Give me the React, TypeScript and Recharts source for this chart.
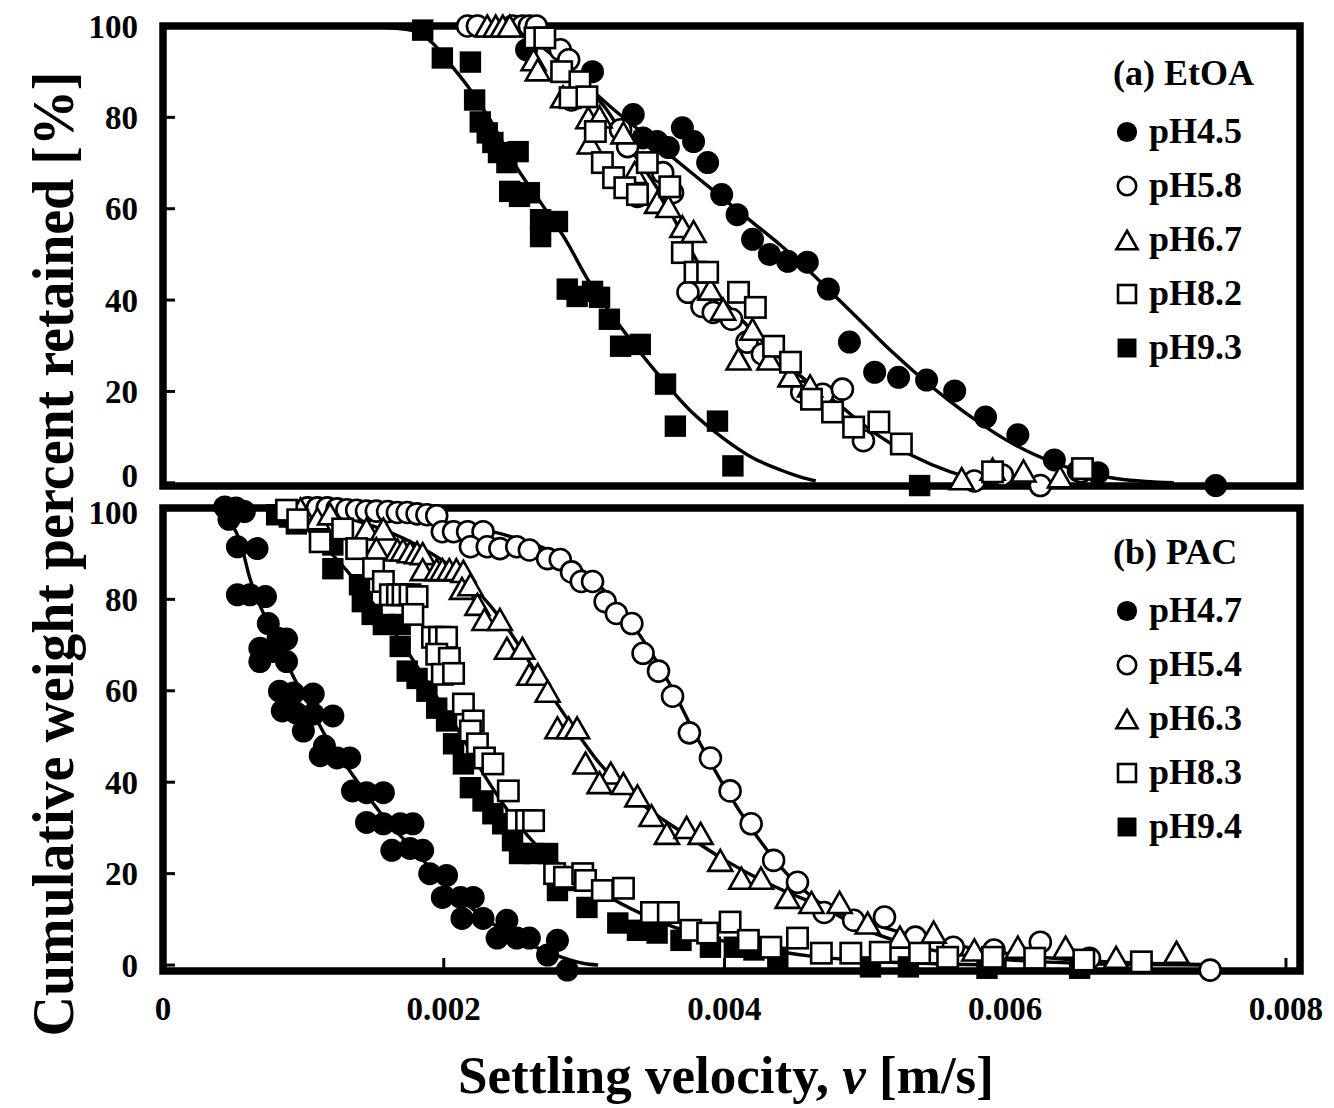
import React from "react";
import { ComposedChart, Scatter, Line, XAxis, YAxis, ReferenceArea, Legend } from "recharts";

const FONT = '"Liberation Serif", "Times New Roman", Times, serif';

const xTicks = [0, 0.002, 0.004, 0.006, 0.008];
const yTicks = [0, 20, 40, 60, 80, 100];

// (a) EtOA, measured points: [settling velocity m/s, cumulative % retained]
const etoa45 = [
  [0.00259, 94.8], [0.00306, 90], [0.00335, 80.6], [0.00342, 75.5], [0.00352, 74.7], [0.0036, 73.4],
  [0.0037, 77.7], [0.00378, 74.7], [0.00388, 70.1], [0.00398, 63.1], [0.00409, 58.7], [0.0042, 53.3],
  [0.00432, 50], [0.00445, 48.5], [0.00459, 48.3], [0.00474, 42.4], [0.00489, 30.8], [0.00507, 24.2],
  [0.00524, 23.1], [0.00544, 22.5], [0.00564, 20.1], [0.00586, 14.4], [0.00609, 10.5], [0.00635, 5],
  [0.00652, 2.6], [0.00666, 2.2], [0.0075, -0.6],
];
const etoa58 = [
  [0.00217, 100], [0.00224, 100], [0.00249, 100], [0.00256, 100], [0.00261, 100], [0.00266, 100],
  [0.00283, 94.8], [0.00289, 92.6], [0.00291, 83.8], [0.00326, 77.3], [0.00331, 73.6], [0.00356, 67.9],
  [0.00338, 62.7], [0.00363, 63.5], [0.00374, 41.7], [0.00384, 38.6], [0.00392, 37.3], [0.00405, 35.8],
  [0.00416, 30.8], [0.00427, 28.2], [0.00455, 19.9], [0.0047, 19.4], [0.00484, 20.5], [0.00499, 9.2],
  [0.00578, 0.4], [0.00598, 1.7], [0.00625, -0.6], [0.00654, 2.4],
];
const etoa67 = [
  [0.00231, 100], [0.00237, 100], [0.00242, 100], [0.00247, 100], [0.00264, 92.6], [0.00267, 90.4],
  [0.00285, 84.5], [0.00303, 79.9], [0.00311, 80.1], [0.00304, 74.4], [0.00328, 76.6], [0.00336, 67.9],
  [0.00352, 61.4], [0.0036, 60.5], [0.0037, 56.1], [0.00378, 55], [0.0039, 42.4], [0.00399, 38],
  [0.0041, 27.1], [0.0042, 33.6], [0.00432, 27.1], [0.00447, 23.4], [0.00461, 21.2], [0.00569, 0.9],
  [0.00591, 3], [0.00613, 2.6], [0.00639, 1.3],
];
const etoa82 = [
  [0.00265, 97.4], [0.00272, 97.4], [0.00284, 90], [0.00297, 87.8], [0.0029, 84.3], [0.00302, 84.5],
  [0.00308, 76.9], [0.00313, 70.1], [0.00321, 66.8], [0.00329, 64.6], [0.00338, 63.1], [0.00345, 70.1],
  [0.00361, 64.8], [0.0037, 50.4], [0.00379, 46.1], [0.00388, 46.1], [0.0041, 41.7], [0.00422, 38.4],
  [0.00435, 29.9], [0.00447, 26.4], [0.00462, 18.3], [0.00477, 15.5], [0.00492, 12.2], [0.0051, 13.3],
  [0.00526, 8.5], [0.00591, 2.4], [0.00655, 3.1],
];
const etoa93 = [
  [0.00185, 99.1], [0.00199, 93], [0.00219, 92.1], [0.00222, 83.8], [0.00226, 79], [0.00231, 76.6],
  [0.00235, 74.5], [0.00239, 72.3], [0.00245, 70.1], [0.00253, 72.5], [0.00247, 63.8], [0.00254, 62.7],
  [0.00261, 63.5], [0.00269, 57.6], [0.00281, 57.2], [0.00269, 53.9], [0.00288, 42.4], [0.00295, 40.8],
  [0.00306, 41.9], [0.00311, 40.6], [0.00318, 35.8], [0.00326, 29.9], [0.0034, 30.3], [0.00358, 21.6],
  [0.00365, 12.4], [0.00395, 13.5], [0.00406, 3.7], [0.00539, -0.6],
];

// (a) EtOA, fitted curves
const etoaFit93 = [
  [0, 100], [0.0014, 100], [0.00155, 99.8], [0.00178, 99], [0.00192, 96.3], [0.00205, 91.5], [0.00219, 86],
  [0.00233, 79.5], [0.00249, 70.5], [0.00269, 61.4], [0.00288, 52.6], [0.00302, 44.8], [0.00316, 38.3],
  [0.00331, 32.1], [0.00352, 24], [0.00375, 16], [0.00399, 9.8], [0.0042, 5.5], [0.0044, 2.8], [0.00455, 1.2],
  [0.00465, 0.4],
];
const etoaFitMid = [
  [0.002, 100], [0.0024, 99.6], [0.0026, 98.5], [0.00274, 96.3], [0.00292, 89.7], [0.00316, 81.7],
  [0.00335, 72.3], [0.00354, 63.5], [0.00368, 55.5], [0.00383, 47.2], [0.00395, 41.5], [0.00416, 34.5],
  [0.0044, 27.1], [0.00454, 23.4], [0.00479, 17.7], [0.00506, 11.1], [0.00534, 5.9], [0.00561, 2.4],
  [0.00583, 0.6], [0.006, 0.1],
];
const etoaFit45 = [
  [0.002, 100], [0.0024, 99.4], [0.0026, 97.5], [0.0028, 93], [0.003, 87.5], [0.0032, 82], [0.0034, 77],
  [0.0036, 72], [0.0038, 67], [0.004, 62], [0.0042, 57], [0.0044, 52], [0.0046, 46.5], [0.0048, 40.5],
  [0.005, 34.5], [0.0052, 28.5], [0.0054, 23], [0.0056, 18], [0.0058, 13.5], [0.006, 9.5], [0.0062, 6.3],
  [0.0064, 3.8], [0.0066, 2], [0.0068, 0.9], [0.007, 0.3], [0.0072, 0],
];

// (b) PAC, measured points
const pac47 = [
  [0.00044, 100.2], [0.00052, 100], [0.00058, 99.2], [0.00047, 97.5], [0.00053, 91.5], [0.00067, 91.1],
  [0.00053, 81], [0.00062, 81], [0.00073, 80.6], [0.00075, 74.7], [0.00082, 71.5], [0.00088, 71.3],
  [0.00069, 69.3], [0.00078, 68.6], [0.00069, 66.4], [0.00088, 66.4], [0.00083, 59.9], [0.00093, 59.5],
  [0.00107, 59.3], [0.00085, 55.6], [0.00095, 55.1], [0.00107, 54.9], [0.00121, 54.5], [0.001, 51.2],
  [0.00115, 47.9], [0.00112, 45.8], [0.00124, 45.3], [0.00133, 45.3], [0.00135, 38.1], [0.00145, 37.7],
  [0.00157, 37.7], [0.00145, 31.2], [0.00157, 30.9], [0.00169, 30.9], [0.00178, 30.9], [0.00163, 25.1],
  [0.00176, 25.5], [0.00185, 25.1], [0.0019, 20], [0.00202, 19.6], [0.00199, 14.8], [0.00212, 14.8],
  [0.00221, 14.8], [0.00213, 10.2], [0.00228, 10.2], [0.00245, 9.8], [0.00238, 5.9], [0.00252, 5.9],
  [0.00261, 5.9], [0.00281, 5.4], [0.00274, 2.2], [0.00288, -1.1],
];
const pac54 = [
  [0.00103, 100], [0.0011, 100], [0.00117, 100], [0.00124, 99.8], [0.00131, 99.6], [0.00138, 99.5],
  [0.00145, 99.3], [0.00152, 99.3], [0.0016, 99.2], [0.00167, 99], [0.00174, 99], [0.00181, 98.7],
  [0.00188, 98.5], [0.00195, 98.3], [0.00199, 94.8], [0.00207, 94.8], [0.00217, 94.8], [0.00228, 94.8],
  [0.00219, 91.5], [0.00231, 91.5], [0.0024, 91.1], [0.00252, 91.5], [0.00261, 90.8], [0.00274, 88.9],
  [0.00283, 88.7], [0.00291, 86], [0.00298, 83.9], [0.00306, 83.9], [0.00315, 79.5], [0.00323, 76.9],
  [0.00334, 74.7], [0.00342, 68.2], [0.00353, 64.3], [0.00363, 58.8], [0.00375, 50.8], [0.0039, 45.3],
  [0.00404, 38.1], [0.00419, 30.9], [0.00435, 22.9], [0.00452, 18.1], [0.00471, 11.5], [0.00492, 9.8],
  [0.00514, 10.5], [0.00536, 6.1], [0.00563, 3.9], [0.00592, 3.3], [0.00625, 5], [0.0066, 1.5],
  [0.00746, -1.1],
];
const pac63 = [
  [0.00098, 99.8], [0.0011, 97.6], [0.00119, 98.7], [0.00145, 95.4], [0.00157, 95.4], [0.00152, 91.1],
  [0.00167, 90.8], [0.00171, 90.8], [0.00176, 90.4], [0.00181, 90.2], [0.00185, 90], [0.00185, 86.5],
  [0.00195, 86.5], [0.00199, 86.5], [0.00204, 86.5], [0.00209, 86.5], [0.00214, 86.1], [0.00213, 82.4],
  [0.00219, 83.2], [0.00224, 78.9], [0.00229, 75.6], [0.0024, 75.6], [0.00245, 69.3], [0.00256, 69.3],
  [0.00261, 63.6], [0.00267, 63.6], [0.00274, 59.9], [0.00281, 51.9], [0.00289, 51.9], [0.00295, 51.9],
  [0.00301, 44.2], [0.00319, 42], [0.00311, 39.9], [0.00328, 39.7], [0.00338, 37], [0.00348, 32.7],
  [0.00359, 28.8], [0.00373, 30.1], [0.00383, 28.8], [0.00397, 22.9], [0.00412, 19], [0.00426, 19],
  [0.00445, 14.8], [0.00462, 13.7], [0.00482, 13.7], [0.00502, 9.2], [0.00525, 6.1], [0.00549, 7.2],
  [0.00578, 3.3], [0.00609, 3.9], [0.00643, 3.9], [0.00679, 1.7], [0.00722, 2.8],
];
const pac83 = [
  [0.00088, 99.5], [0.00096, 97.4], [0.00112, 92.6], [0.00128, 95.4], [0.00138, 91.1], [0.0015, 86.7],
  [0.00157, 83.9], [0.00162, 81], [0.00167, 81], [0.00171, 81], [0.00176, 81], [0.00181, 80.6],
  [0.00178, 76.7], [0.00192, 71.7], [0.00197, 71.7], [0.00202, 71.7], [0.00195, 68], [0.00204, 67.1],
  [0.00199, 63.6], [0.00207, 63.8], [0.00214, 57.1], [0.00221, 53.4], [0.00219, 51.2], [0.00224, 48.4],
  [0.00229, 45.3], [0.00235, 44], [0.00246, 38.1], [0.00252, 31.6], [0.00259, 31.6], [0.00264, 31.6],
  [0.00279, 20], [0.00286, 19.2], [0.00299, 20], [0.00301, 18.5], [0.00313, 16.3], [0.00328, 16.8],
  [0.00348, 11.5], [0.0036, 11.5], [0.00376, 7.6], [0.00388, 7], [0.00404, 9.4], [0.00417, 5.4],
  [0.00433, 3.9], [0.00452, 5.9], [0.00469, 2.6], [0.0049, 2.6], [0.00511, 2.8], [0.00539, 2.6],
  [0.00559, 1.7], [0.00591, 1.7], [0.00621, 1.5], [0.00656, 1.1], [0.00697, 0.7],
];
const pac94 = [
  [0.00081, 98.5], [0.0009, 98], [0.00095, 96.5], [0.00121, 91.9], [0.00121, 86.7], [0.0014, 83.2],
  [0.00142, 79.5], [0.00149, 76.7], [0.00157, 74.5], [0.00169, 74.5], [0.00169, 69.7], [0.00174, 64.3],
  [0.00181, 62.7], [0.00188, 59.9], [0.00195, 56.2], [0.00202, 53.4], [0.00207, 48.4], [0.00214, 44],
  [0.00219, 38.8], [0.00228, 35.9], [0.00235, 33.1], [0.00242, 30.9], [0.00249, 27.2], [0.00254, 24.4],
  [0.00264, 24.4], [0.00274, 24.4], [0.00281, 16.3], [0.0029, 18.5], [0.00302, 12.6], [0.00324, 9.2],
  [0.00338, 7.6], [0.00352, 7], [0.00369, 5.4], [0.0039, 3.9], [0.00407, 3.9], [0.00421, 3.3],
  [0.00438, 1.7], [0.00504, -0.4], [0.00531, -0.4], [0.00587, -0.7], [0.00653, -0.7],
];

// (b) PAC, fitted curves
const pacFit47 = [
  [0, 100], [0.0004, 100], [0.00048, 97], [0.00055, 92.6], [0.00062, 84.5], [0.00071, 77.3], [0.00081, 71.5],
  [0.00093, 63], [0.00105, 56.5], [0.00115, 50.5], [0.00133, 42.5], [0.00157, 32.5], [0.00181, 24.4],
  [0.00204, 16.8], [0.00228, 10.5], [0.00252, 6], [0.00276, 2.6], [0.00299, 0.4], [0.0031, 0],
];
const pacFit54 = [
  [0, 100], [0.001, 100], [0.0015, 99.3], [0.002, 97], [0.0025, 93.5], [0.0028, 90], [0.003, 86], [0.0032, 80],
  [0.0034, 72], [0.0036, 62], [0.0038, 50], [0.004, 39], [0.0042, 29.5], [0.0044, 21.5], [0.0046, 15.5],
  [0.0048, 11], [0.005, 7.8], [0.0053, 4.6], [0.0056, 2.6], [0.006, 1.2], [0.0065, 0.4], [0.007, 0.1], [0.0075, 0],
];
const pacFit63 = [
  [0, 100], [0.001, 99.5], [0.0014, 97], [0.0018, 92], [0.0021, 86], [0.0024, 76], [0.0027, 62], [0.0029, 53],
  [0.0031, 44.5], [0.0034, 35.5], [0.0037, 29], [0.004, 23], [0.0043, 18], [0.0046, 14], [0.005, 9.5],
  [0.0055, 5.3], [0.006, 2.6], [0.0065, 1.1], [0.007, 0.4], [0.0075, 0.1],
];
const pacFitSq = [
  [0, 100], [0.0006, 100], [0.0009, 98], [0.0012, 90], [0.0015, 79], [0.0017, 70.5], [0.0019, 61],
  [0.0021, 51.5], [0.0023, 41], [0.0025, 32], [0.0027, 25], [0.0029, 20.5], [0.0032, 14.5], [0.0035, 10],
  [0.0038, 6.7], [0.0042, 4], [0.0046, 2], [0.005, 0.9], [0.0055, 0.3], [0.006, 0],
];

const toPts = (a: number[][]) => a.map(([v, y]) => ({ v, y }));

type Kind = "dot" | "ring" | "tri" | "box" | "block";

function Marker({ cx, cy, kind, small = false }: { cx: number; cy: number; kind: Kind; small?: boolean }) {
  const k = small ? 0.88 : 1;
  if (kind === "dot") return <circle cx={cx} cy={cy} r={11.5 * k} fill="#000" />;
  if (kind === "ring")
    return <circle cx={cx} cy={cy} r={10.5 * k} fill="#fff" stroke="#000" strokeWidth={2.6} />;
  if (kind === "tri") {
    const w = 12 * k;
    const h = 10.5 * k;
    return (
      <polygon
        points={`${cx},${cy - h} ${cx + w},${cy + h} ${cx - w},${cy + h}`}
        fill="#fff"
        stroke="#000"
        strokeWidth={2.6}
        strokeLinejoin="miter"
      />
    );
  }
  const s = 10.2 * k;
  if (kind === "box")
    return <rect x={cx - s} y={cy - s} width={2 * s} height={2 * s} fill="#fff" stroke="#000" strokeWidth={2.6} />;
  return <rect x={cx - s - 0.5} y={cy - s - 0.5} width={2 * s + 1} height={2 * s + 1} fill="#000" />;
}

type Series = { label: string; kind: Kind; data: number[][] };

const etoaSeries: Series[] = [
  { label: "pH4.5", kind: "dot", data: etoa45 },
  { label: "pH5.8", kind: "ring", data: etoa58 },
  { label: "pH6.7", kind: "tri", data: etoa67 },
  { label: "pH8.2", kind: "box", data: etoa82 },
  { label: "pH9.3", kind: "block", data: etoa93 },
];
const pacSeries: Series[] = [
  { label: "pH4.7", kind: "dot", data: pac47 },
  { label: "pH5.4", kind: "ring", data: pac54 },
  { label: "pH6.3", kind: "tri", data: pac63 },
  { label: "pH8.3", kind: "box", data: pac83 },
  { label: "pH9.4", kind: "block", data: pac94 },
];
// drawing order: filled first, hollow squares last (on top)
const drawOrder: Kind[] = ["dot", "block", "ring", "tri", "box"];

function LegendBox({ title, items }: { title: string; items: Series[] }) {
  return (
    <div style={{ fontFamily: FONT, fontWeight: "bold", fontSize: 36, color: "#000" }}>
      <div style={{ height: 62, lineHeight: "62px", marginLeft: 8, whiteSpace: "nowrap" }}>{title}</div>
      {items.map((it) => (
        <div key={it.label} style={{ height: 54, display: "flex", alignItems: "center", whiteSpace: "nowrap" }}>
          <svg width={44} height={54} style={{ display: "block" }}>
            <Marker cx={22} cy={28} kind={it.kind} small />
          </svg>
          <span>{it.label}</span>
        </div>
      ))}
    </div>
  );
}

function YTick(props: any) {
  const { x, y, payload, shift } = props;
  const dy = (shift && shift[payload.value]) || 0;
  return (
    <text x={x} y={y + dy} dy="0.35em" textAnchor="end" fontFamily={FONT} fontWeight="bold" fontSize={33} fill="#000">
      {payload.value}
    </text>
  );
}

interface PanelProps {
  top: number;
  height: number;
  marginTop: number;
  yMin: number;
  xAxisHeight: number;
  showXLabels: boolean;
  series: Series[];
  curves: number[][][];
  title: string;
  legendTop: number;
  yShift: Record<number, number>;
}

function Panel(p: PanelProps) {
  const ordered = drawOrder.map((k) => p.series.find((s) => s.kind === k)!);
  return (
    <div style={{ position: "absolute", left: 0, top: p.top }}>
      <ComposedChart width={1334} height={p.height} margin={{ top: p.marginTop, right: 34, bottom: 0, left: 0 }}>
        <XAxis
          type="number"
          dataKey="v"
          domain={[0, 0.0081]}
          ticks={xTicks}
          interval={0}
          height={p.xAxisHeight}
          axisLine={false}
          tickLine={{ stroke: "#000", strokeWidth: 3 }}
          tickSize={-13}
          tickMargin={39}
          tick={p.showXLabels ? { fontFamily: FONT, fontWeight: "bold", fontSize: 33, fill: "#000" } : false}
          tickFormatter={(v: number) => (v === 0 ? "0" : v.toFixed(3))}
        />
        <YAxis
          type="number"
          dataKey="y"
          domain={[p.yMin, 100]}
          ticks={yTicks}
          interval={0}
          width={163}
          axisLine={false}
          tickLine={{ stroke: "#000", strokeWidth: 3 }}
          tickSize={-12}
          tickMargin={37}
          tick={(tp: any) => <YTick {...tp} shift={p.yShift} />}
        />
        <ReferenceArea
          x1={0}
          x2={0.0081}
          y1={p.yMin}
          y2={100}
          fill="none"
          fillOpacity={0}
          stroke="#000"
          strokeWidth={7.5}
          ifOverflow="visible"
        />
        {p.curves.map((c, i) => (
          <Line
            key={"c" + i}
            data={toPts(c)}
            dataKey="y"
            type="monotone"
            stroke="#000"
            strokeWidth={3.4}
            dot={false}
            activeDot={false}
            legendType="none"
            isAnimationActive={false}
          />
        ))}
        {ordered.map((s) => (
          <Scatter
            key={s.label}
            name={s.label}
            data={toPts(s.data)}
            dataKey="y"
            shape={(sp: any) => <Marker cx={sp.cx} cy={sp.cy} kind={s.kind} />}
            isAnimationActive={false}
          />
        ))}
        <Legend
          layout="horizontal"
          verticalAlign="middle"
          align="center"
          wrapperStyle={{ left: 1105, top: p.legendTop, width: 220 }}
          content={() => <LegendBox title={p.title} items={p.series} />}
        />
      </ComposedChart>
    </div>
  );
}

export default function App() {
  return (
    <div
      style={{
        position: "absolute",
        left: 0,
        top: 0,
        width: 1334,
        height: 1108,
        background: "#fff",
        overflow: "hidden",
      }}
    >
      <Panel
        top={0}
        height={500}
        marginTop={26}
        yMin={-0.7}
        xAxisHeight={14}
        showXLabels={false}
        series={etoaSeries}
        curves={[etoaFit93, etoaFitMid, etoaFit45]}
        title="(a) EtOA"
        legendTop={42}
        yShift={{ 0: -7 }}
      />
      <Panel
        top={480}
        height={628}
        marginTop={27}
        yMin={-1.3}
        xAxisHeight={137}
        showXLabels={true}
        series={pacSeries}
        curves={[pacFit47, pacFit54, pacFit63, pacFitSq]}
        title="(b) PAC"
        legendTop={41}
        yShift={{ 100: 5 }}
      />
      <svg width={1334} height={1108} style={{ position: "absolute", left: 0, top: 0, pointerEvents: "none" }}>
        <text
          transform="translate(73,554) rotate(-90)"
          textAnchor="middle"
          fontFamily={FONT}
          fontWeight="bold"
          fontSize={60}
          textLength={965}
          lengthAdjust="spacingAndGlyphs"
          fill="#000"
        >
          Cumulative weight percent retained [%]
        </text>
        <text x={726} y={1093} textAnchor="middle" fontFamily={FONT} fontWeight="bold" fontSize={53} fill="#000">
          Settling velocity, <tspan fontStyle="italic">v</tspan> [m/s]
        </text>
      </svg>
    </div>
  );
}
